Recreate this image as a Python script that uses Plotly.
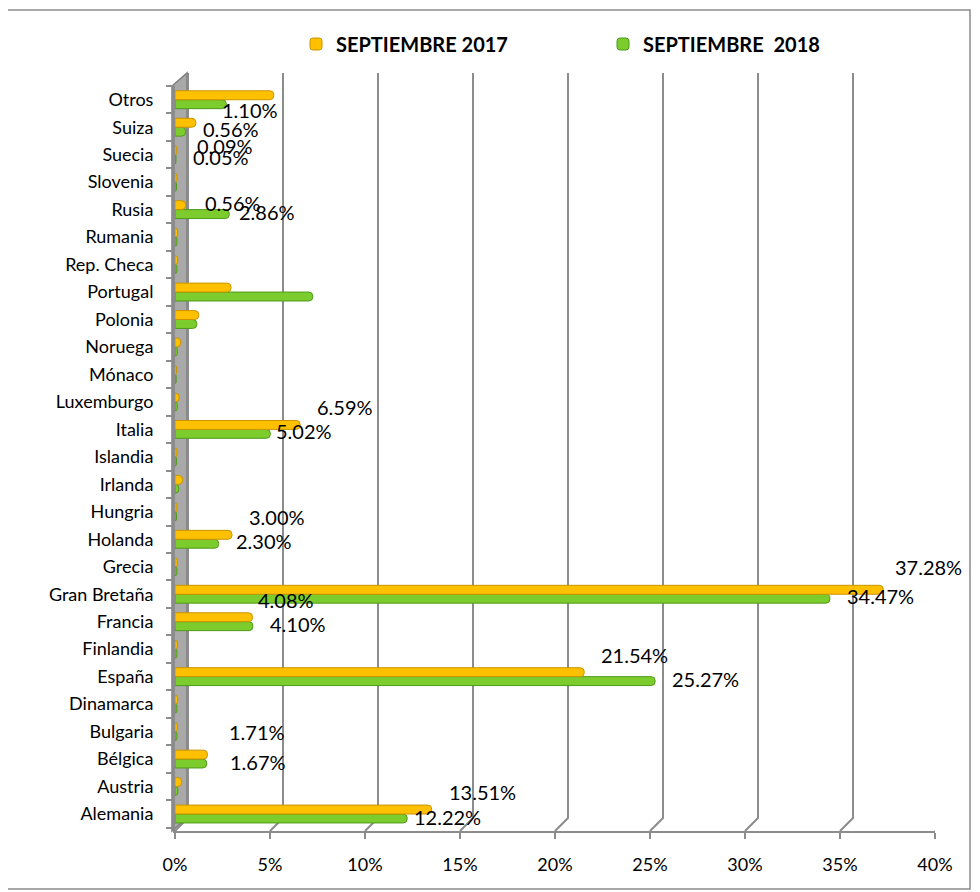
import plotly.graph_objects as go

paises = ["Alemania", "Austria", "Bélgica", "Bulgaria", "Dinamarca", "España", "Finlandia",
          "Francia", "Gran Bretaña", "Grecia", "Holanda", "Hungria", "Irlanda", "Islandia",
          "Italia", "Luxemburgo", "Mónaco", "Noruega", "Polonia", "Portugal", "Rep. Checa",
          "Rumania", "Rusia", "Slovenia", "Suecia", "Suiza", "Otros"]
sep_2017 = [13.51, 0.35, 1.71, 0.12, 0.14, 21.54, 0.12, 4.08, 37.28, 0.12, 3.00, 0.10, 0.40, 0.10,
            6.59, 0.22, 0.08, 0.30, 1.25, 2.95, 0.14, 0.14, 0.56, 0.10, 0.09, 1.10, 5.20]
sep_2018 = [12.22, 0.15, 1.67, 0.10, 0.10, 25.27, 0.10, 4.10, 34.47, 0.10, 2.30, 0.08, 0.20, 0.08,
            5.02, 0.12, 0.06, 0.12, 1.15, 7.25, 0.10, 0.10, 2.86, 0.08, 0.05, 0.56, 2.70]
etiq_2017 = ["13.51%", "", "1.71%", "", "", "21.54%", "", "4.08%", "37.28%", "", "3.00%", "", "", "",
             "6.59%", "", "", "", "", "", "", "", "0.56%", "", "0.09%", "1.10%", ""]
etiq_2018 = ["12.22%", "", "1.67%", "", "", "25.27%", "", "4.10%", "34.47%", "", "2.30%", "", "", "",
             "5.02%", "", "", "", "", "", "", "", "2.86%", "", "0.05%", "0.56%", ""]
ticks_x = [0, 5, 10, 15, 20, 25, 30, 35, 40]
ticks_txt = ["0%", "5%", "10%", "15%", "20%", "25%", "30%", "35%", "40%"]

# desplazamientos (px) de las etiquetas, como las dejó Excel
desp_2017 = {"Gran Bretaña": (10, 27), "Bélgica": (20, 27), "Francia": (3, 22),
             "Suiza": (24, 17), "Suecia": (18, 9), "Rusia": (17, 7)}
desp_2018 = {"Alemania": (5, -3), "Italia": (4, -2), "Rusia": (8, -2), "Bélgica": (21, -3)}

FONT = "Lato"
GRIS = "#8c8c8c"
OFF = 8  # margen del body de la página
L, R, T, B = 175 - OFF, 935 - OFF, 86 - OFF, 831 - OFF


def px(x):
    return (x - OFF - L) / (R - L)


def py(y):
    return (B - (y - OFF)) / (B - T)


fig = go.Figure()
fig.add_trace(go.Bar(y=paises, x=sep_2018, orientation="h", name="SEPTIEMBRE\u00a0\u00a02018",
                     marker=dict(color="#7ccc2e", line=dict(color="#4f9a1a", width=1)),
                     legendrank=2))
fig.add_trace(go.Bar(y=paises, x=sep_2017, orientation="h", name="SEPTIEMBRE 2017",
                     marker=dict(color="#ffc000", line=dict(color="#c99400", width=1)),
                     legendrank=1))

anots = []
for p, v, t in zip(paises, sep_2017, etiq_2017):
    if t:
        dx, dy = desp_2017.get(p, (15, 22))
        anots.append(dict(x=v, y=p, text=t, xanchor="left", yanchor="middle", xshift=dx, yshift=dy,
                          showarrow=False, font=dict(family=FONT, size=20, color="black")))
for p, v, t in zip(paises, sep_2018, etiq_2018):
    if t:
        dx, dy = desp_2018.get(p, (15, -2))
        anots.append(dict(x=v, y=p, text=t, xanchor="left", yanchor="middle", xshift=dx, yshift=dy,
                          showarrow=False, font=dict(family=FONT, size=20, color="black")))

shapes = [
    # marco exterior
    dict(type="rect", xref="paper", yref="paper", x0=px(7), x1=px(970), y0=py(889), y1=py(10),
         line=dict(color="#8a8a8a", width=1.5), layer="below"),
    # pared lateral 3D
    dict(type="path", xref="paper", yref="paper", layer="below",
         path=f"M{px(172)},{py(831)} L{px(187)},{py(818)} L{px(187)},{py(73)} L{px(172)},{py(86)} Z",
         fillcolor="#a9a9a9", line=dict(color="#7f7f7f", width=1.5)),
]
for v in ticks_x:
    shapes.append(dict(type="path", xref="x", xsizemode="pixel", xanchor=v,
                       yref="paper", ysizemode="pixel", yanchor=0, layer="below",
                       path="M0,0 L13,13 L13,758", line=dict(color=GRIS, width=2)))

fig.update_layout(
    width=980, height=892,
    margin=dict(l=L, r=980 - R, t=T, b=892 - B, autoexpand=False),
    paper_bgcolor="white", plot_bgcolor="rgba(0,0,0,0)",
    barmode="group", bargap=0.35, bargroupgap=0, barcornerradius=4,
    font=dict(family=FONT, size=18, color="black"),
    showlegend=True,
    legend=dict(orientation="h", x=px(296), xanchor="left", y=py(44), yanchor="middle",
                font=dict(family=FONT, size=20, color="black", weight="bold"),
                entrywidth=262, entrywidthmode="pixels", bgcolor="rgba(0,0,0,0)"),
    xaxis=dict(range=[0, 40], tickvals=ticks_x, ticktext=ticks_txt, showgrid=False, zeroline=False,
               showline=True, linecolor=GRIS, linewidth=2, ticks="outside", ticklen=6,
               tickcolor=GRIS, tickwidth=2, ticklabelstandoff=10, automargin=False,
               tickfont=dict(family=FONT, size=18)),
    yaxis=dict(categoryorder="array", categoryarray=paises, showgrid=False, zeroline=False,
               showline=True, linecolor=GRIS, linewidth=2, ticks="outside", ticklen=7,
               tickcolor=GRIS, tickwidth=2, tickson="boundaries", ticklabelstandoff=16,
               automargin=False, tickfont=dict(family=FONT, size=18)),
    annotations=anots,
    shapes=shapes,
)

fig.write_html("out.html")
